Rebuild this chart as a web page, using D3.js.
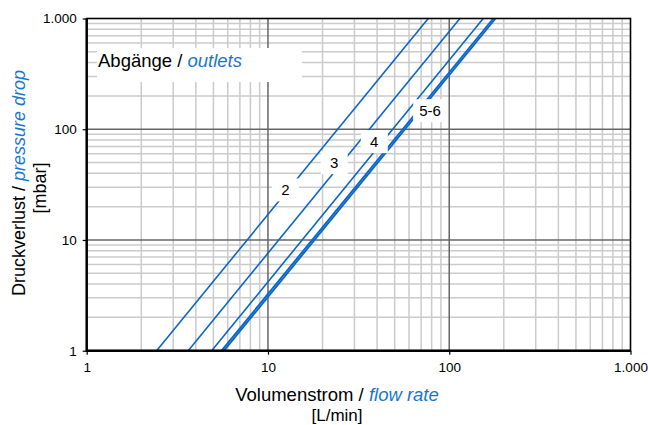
<!DOCTYPE html>
<html>
<head>
<meta charset="utf-8">
<script src="https://cdn.jsdelivr.net/npm/d3@7"></script>
<style>
  body { margin: 0; background: #fff; }
  svg { display: block; font-family: "Liberation Sans", Arial, sans-serif; }
</style>
</head>
<body>
<svg id="chart" width="648" height="425"></svg>
<script>
// ---- data ----
const xTickValues = [1, 10, 100, 1000];
const xTickLabels = ["1", "10", "100", "1.000"];
const yTickValues = [1, 10, 100, 1000];
const yTickLabels = ["1", "10", "100", "1.000"];

const seriesNames = ["2", "3", "4", "5", "6"];
// flow rate [L/min] at which each curve crosses 1 mbar and 1000 mbar
const flowAt1mbar = [2.43, 3.63, 4.89, 5.55, 5.72];
const flowAt1000mbar = [76.6, 114.5, 154, 175, 180];
const dpLow = 1, dpHigh = 1000;

const labelTexts = ["2", "3", "4", "5-6"];
const labelFlow = [12.5, 23.2, 38.6, 78.3];
const labelDp = [28.3, 49.9, 77.3, 147];

const titleMain = "Abgänge / ";
const titleAccent = "outlets";
const xTitleMain = "Volumenstrom / ";
const xTitleAccent = "flow rate";
const xUnit = "[L/min]";
const yTitleMain = "Druckverlust / ";
const yTitleAccent = "pressure drop";
const yUnit = "[mbar]";

// ---- layout ----
const svg = d3.select("#chart");
const L = 86.7, R = 630.5, T = 18.5, B = 350.7;
const x = d3.scaleLog().domain([1, 1000]).range([L, R]);
const y = d3.scaleLog().domain([1, 1000]).range([B, T]);
const blue = "#0a66c8";
const accent = "#1677d0";

// minor gridlines
const minors = [];
for (let d = 1; d < 1000; d *= 10) for (let k = 2; k <= 9; k++) minors.push(d * k);
const g = svg.append("g");
g.selectAll(".vmin").data(minors).join("line")
  .attr("x1", d => x(d)).attr("x2", d => x(d)).attr("y1", T).attr("y2", B)
  .attr("stroke", "#cbcbcb").attr("stroke-width", 1.5);
g.selectAll(".hmin").data(minors).join("line")
  .attr("y1", d => y(d)).attr("y2", d => y(d)).attr("x1", L).attr("x2", R)
  .attr("stroke", "#cbcbcb").attr("stroke-width", 1.5);
// major gridlines
g.selectAll(".vmaj").data([10, 100]).join("line")
  .attr("x1", d => x(d)).attr("x2", d => x(d)).attr("y1", T).attr("y2", B)
  .attr("stroke", "#666").attr("stroke-width", 1.5);
g.selectAll(".hmaj").data([10, 100]).join("line")
  .attr("y1", d => y(d)).attr("y2", d => y(d)).attr("x1", L).attr("x2", R)
  .attr("stroke", "#666").attr("stroke-width", 1.5);

// title box
const titleG = svg.append("g");
titleG.append("rect").attr("x", 97).attr("y", 48).attr("width", 205).attr("height", 34).attr("fill", "#fff");
const tt = titleG.append("text").attr("x", 98).attr("y", 66.5).attr("font-size", 18.5).attr("fill", "#000");
tt.append("tspan").text(titleMain);
tt.append("tspan").attr("fill", accent).attr("font-style", "italic").text(titleAccent);

// curves
const lines = seriesNames.map((n, i) => ({
  name: n,
  pts: [[flowAt1mbar[i], dpLow], [flowAt1000mbar[i], dpHigh]]
}));
const lineGen = d3.line().x(d => x(d[0])).y(d => y(d[1]));
svg.append("g").selectAll("path").data(lines).join("path")
  .attr("d", d => lineGen(d.pts))
  .attr("fill", "none").attr("stroke", blue)
  .attr("stroke-width", d => (d.name === "5" || d.name === "6") ? 1.9 : 1.6);

// curve labels
const lab = svg.append("g").selectAll("g").data(labelTexts).join("g")
  .attr("transform", (d, i) => `translate(${x(labelFlow[i])},${y(labelDp[i])})`);
lab.append("text").text(d => d).attr("text-anchor", "middle").attr("dy", "0.36em")
  .attr("font-size", 15).attr("fill", "#000");
lab.each(function() {
  const t = d3.select(this).select("text");
  const w = t.node().getComputedTextLength();
  const bw = Math.max(27, w + 12), bh = 23;
  d3.select(this).insert("rect", "text").attr("x", -bw / 2).attr("y", -bh / 2)
    .attr("width", bw).attr("height", bh).attr("fill", "#fff");
});

// frame
svg.append("rect").attr("x", L).attr("y", T).attr("width", R - L).attr("height", B - T)
  .attr("fill", "none").attr("stroke", "#000").attr("stroke-width", 1.6);
svg.append("line").attr("x1", L).attr("x2", R).attr("y1", B).attr("y2", B)
  .attr("stroke", "#000").attr("stroke-width", 2.6);
svg.append("line").attr("x1", L).attr("x2", L).attr("y1", T).attr("y2", B + 1.3)
  .attr("stroke", "#000").attr("stroke-width", 2.4);

// axes
const xAxis = d3.axisBottom(x).tickValues(xTickValues)
  .tickFormat((d, i) => xTickLabels[i]).tickSize(4).tickPadding(8);
const xa = svg.append("g").attr("transform", `translate(0,${B})`).call(xAxis);
xa.select(".domain").remove();
xa.selectAll("line").attr("stroke", "#000").attr("stroke-width", 1.2);
xa.selectAll("text").attr("font-size", 13.5).attr("fill", "#000")
  .attr("font-family", "Liberation Sans, Arial, sans-serif");

const yAxis = d3.axisLeft(y).tickValues(yTickValues)
  .tickFormat((d, i) => yTickLabels[i]).tickSize(4).tickPadding(6);
const ya = svg.append("g").attr("transform", `translate(${L},0)`).call(yAxis);
ya.select(".domain").remove();
ya.selectAll("line").attr("stroke", "#000").attr("stroke-width", 1.2);
ya.selectAll("text").attr("font-size", 13.5).attr("fill", "#000")
  .attr("font-family", "Liberation Sans, Arial, sans-serif");

// axis titles
const xt = svg.append("text").attr("x", 337).attr("y", 400.5).attr("text-anchor", "middle")
  .attr("font-size", 18.5).attr("fill", "#000");
xt.append("tspan").text(xTitleMain);
xt.append("tspan").attr("fill", accent).attr("font-style", "italic").text(xTitleAccent);
svg.append("text").attr("x", 337).attr("y", 421).attr("text-anchor", "middle")
  .attr("font-size", 17).attr("fill", "#000").text(xUnit);

const yt = svg.append("text").attr("transform", "translate(25,183) rotate(-90)")
  .attr("text-anchor", "middle").attr("font-size", 18).attr("fill", "#000");
yt.append("tspan").text(yTitleMain);
yt.append("tspan").attr("fill", accent).attr("font-style", "italic").text(yTitleAccent);
svg.append("text").attr("transform", "translate(46,188) rotate(-90)")
  .attr("text-anchor", "middle").attr("font-size", 18).attr("fill", "#000").text(yUnit);
</script>
</body>
</html>
